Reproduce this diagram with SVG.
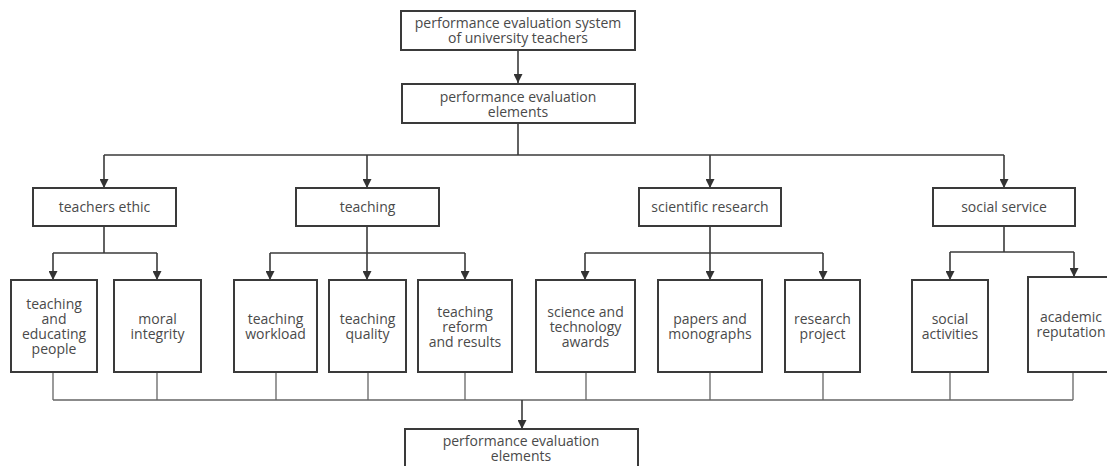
<svg xmlns="http://www.w3.org/2000/svg" width="1107" height="466" viewBox="0 0 1107 466">
<style>
.box{fill:#fff;stroke:#3a3a3a;stroke-width:2}
.t{font-family:"Open Sans","Noto Sans",sans-serif;font-size:14px;fill:#4a4a4a;text-anchor:middle}
.c{fill:none;stroke:#3a3a3a;stroke-width:1.6}
.g{fill:none;stroke:#666;stroke-width:1.3}
</style>
<defs>
<marker id="ar" viewBox="0 0 10 10" refX="10" refY="5" markerWidth="9" markerHeight="9" markerUnits="userSpaceOnUse" orient="auto">
<path d="M0,0 L10,5 L0,10 z" fill="#333"/>
</marker>
</defs>
<rect width="1107" height="466" fill="#fff"/>
<g id="connectors">
<line class="c" x1="518" y1="50" x2="518" y2="83" marker-end="url(#ar)"/>
<polyline class="c" points="518,123 518,155"/>
<polyline class="c" points="104,155 1004,155"/>
<line class="c" x1="104" y1="155" x2="104" y2="188" marker-end="url(#ar)"/>
<line class="c" x1="367" y1="155" x2="367" y2="188" marker-end="url(#ar)"/>
<line class="c" x1="710" y1="155" x2="710" y2="188" marker-end="url(#ar)"/>
<line class="c" x1="1004" y1="155" x2="1004" y2="188" marker-end="url(#ar)"/>
<polyline class="c" points="104,226 104,253"/>
<polyline class="c" points="53,253 157,253"/>
<line class="c" x1="53" y1="253" x2="53" y2="280" marker-end="url(#ar)"/>
<line class="c" x1="157" y1="253" x2="157" y2="280" marker-end="url(#ar)"/>
<polyline class="c" points="367,226 367,253"/>
<polyline class="c" points="270,253 465,253"/>
<line class="c" x1="270" y1="253" x2="270" y2="280" marker-end="url(#ar)"/>
<line class="c" x1="367" y1="253" x2="367" y2="280" marker-end="url(#ar)"/>
<line class="c" x1="465" y1="253" x2="465" y2="280" marker-end="url(#ar)"/>
<polyline class="c" points="710,226 710,253"/>
<polyline class="c" points="585,253 823,253"/>
<line class="c" x1="585" y1="253" x2="585" y2="280" marker-end="url(#ar)"/>
<line class="c" x1="710" y1="253" x2="710" y2="280" marker-end="url(#ar)"/>
<line class="c" x1="823" y1="253" x2="823" y2="280" marker-end="url(#ar)"/>
<polyline class="c" points="1004,226 1004,252"/>
<polyline class="c" points="950,252 1074,252"/>
<line class="c" x1="950" y1="252" x2="950" y2="280" marker-end="url(#ar)"/>
<line class="c" x1="1074" y1="252" x2="1074" y2="277" marker-end="url(#ar)"/>
<path class="g" d="M53,372V400M157,372V400M276,372V400M368,372V400M465,372V400M586,372V400M710,372V400M823,372V400M950,372V400M1073,372V400M53,400H1073"/>
<line class="c" x1="522" y1="400" x2="522" y2="429" marker-end="url(#ar)"/>
</g>
<g id="n-root"><rect class="box" x="401" y="11" width="234" height="39"/><text class="t" x="518" y="28">performance evaluation system</text><text class="t" x="518" y="43">of university teachers</text></g>
<g id="n-elements"><rect class="box" x="402" y="84" width="233" height="39"/><text class="t" x="518" y="102">performance evaluation</text><text class="t" x="518" y="117">elements</text></g>
<g id="n-ethic"><rect class="box" x="33" y="188" width="143" height="38"/><text class="t" x="104.5" y="212">teachers ethic</text></g>
<g id="n-teaching"><rect class="box" x="296" y="188" width="143" height="38"/><text class="t" x="367.5" y="212">teaching</text></g>
<g id="n-research"><rect class="box" x="639" y="188" width="142" height="38"/><text class="t" x="710" y="212">scientific research</text></g>
<g id="n-social"><rect class="box" x="933" y="188" width="142" height="38"/><text class="t" x="1004" y="212">social service</text></g>
<g id="n-educating"><rect class="box" x="11" y="280" width="86" height="92"/><text class="t" x="54" y="309">teaching</text><text class="t" x="54" y="324">and</text><text class="t" x="54" y="339">educating</text><text class="t" x="54" y="354">people</text></g>
<g id="n-moral"><rect class="box" x="114" y="280" width="87" height="92"/><text class="t" x="157.5" y="324">moral</text><text class="t" x="157.5" y="339">integrity</text></g>
<g id="n-workload"><rect class="box" x="234" y="280" width="83" height="92"/><text class="t" x="275.5" y="324">teaching</text><text class="t" x="275.5" y="339">workload</text></g>
<g id="n-quality"><rect class="box" x="329" y="280" width="77" height="92"/><text class="t" x="367.5" y="324">teaching</text><text class="t" x="367.5" y="339">quality</text></g>
<g id="n-reform"><rect class="box" x="418" y="280" width="94" height="92"/><text class="t" x="465" y="317">teaching</text><text class="t" x="465" y="332">reform</text><text class="t" x="465" y="347">and results</text></g>
<g id="n-awards"><rect class="box" x="536" y="280" width="99" height="92"/><text class="t" x="585.5" y="317">science and</text><text class="t" x="585.5" y="332">technology</text><text class="t" x="585.5" y="347">awards</text></g>
<g id="n-papers"><rect class="box" x="658" y="280" width="104" height="92"/><text class="t" x="710" y="324">papers and</text><text class="t" x="710" y="339">monographs</text></g>
<g id="n-project"><rect class="box" x="785" y="280" width="75" height="92"/><text class="t" x="822.5" y="324">research</text><text class="t" x="822.5" y="339">project</text></g>
<g id="n-activities"><rect class="box" x="912" y="280" width="76" height="92"/><text class="t" x="950" y="324">social</text><text class="t" x="950" y="339">activities</text></g>
<g id="n-reputation"><rect class="box" x="1028" y="277" width="92" height="95"/><text class="t" x="1071" y="322">academic</text><text class="t" x="1071" y="337">reputation</text></g>
<g id="n-bottom"><rect class="box" x="405" y="429" width="233" height="45"/><text class="t" x="521" y="446">performance evaluation</text><text class="t" x="521" y="461">elements</text></g>
</svg>
